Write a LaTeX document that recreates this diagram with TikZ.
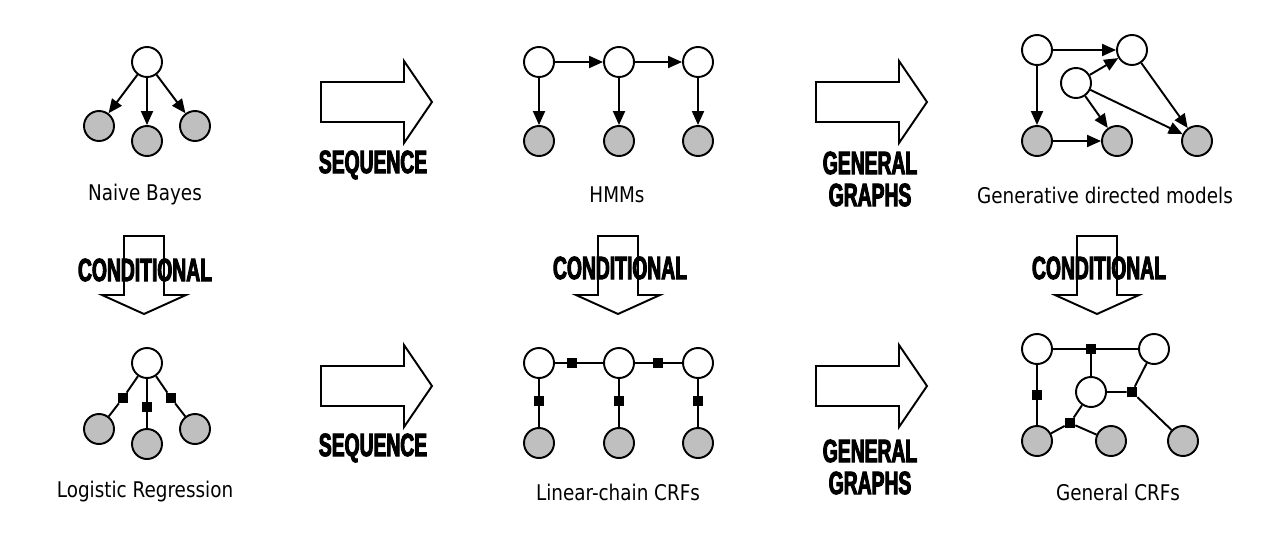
\documentclass[tikz,border=0pt]{standalone}
\usepackage{fontspec}
\setmainfont{DejaVu Sans}[FakeStretch=0.85]
\newfontfamily\bannerfont{Liberation Sans}[FakeStretch=0.6,FakeBold=3]
\usetikzlibrary{arrows.meta}

\tikzset{
  latent/.style={circle, draw, line width=1.1pt, fill=white, minimum size=6mm, inner sep=0pt},
  observed/.style={latent, fill=black!25},
  factor/.style={rectangle, fill=black, minimum size=2mm, inner sep=0pt},
  edge/.style={line width=1.1pt, -{Triangle[length=2.8mm,width=2.4mm]}},
  link/.style={line width=1.1pt},
  blockarrow/.style={draw, line width=1.1pt, fill=white, line join=miter},
  banner/.style={font=\bannerfont\bfseries\fontsize{18.3}{18.2}\selectfont, align=center, inner sep=0pt},
  caption/.style={font=\fontsize{12.3}{14}\selectfont, inner sep=0pt}
}

\begin{document}
\begin{tikzpicture}[x=0.2mm, y=-0.2mm]
    % --- Canvas (pixel grid of the reference) ---
    \useasboundingbox (0,0) rectangle (1266,552);

    % --- Block arrows ---
    \def\bodyL{83}   % length of the arrow body
    \def\tipL{111}   % distance to the tip
    \foreach \ax/\ay in {321/102, 816/102, 321/386, 816/386} {
        \draw[blockarrow] (\ax,\ay-20) -- ++(\bodyL,0) -- ++(0,-21) -- (\ax+\tipL,\ay)
            -- (\ax+\bodyL,\ay+41) -- ++(0,-21) -- (\ax,\ay+20) -- cycle;
    }
    \foreach \cx in {144, 618, 1097} {
        \draw[blockarrow] (\cx-20,236) -- (\cx+20,236) -- (\cx+20,295) -- (\cx+42,295)
            -- (\cx,314) -- (\cx-42,295) -- (\cx-20,295) -- cycle;
    }

    % --- Banner texts ---
    \node[banner] (seqTop) at (373,165) {SEQUENCE};
    \node[banner] (seqBot) at (373,448) {SEQUENCE};
    \node[banner] (genTop) at (870,179) {GENERAL\\GRAPHS};
    \node[banner] (genBot) at (870,467) {GENERAL\\GRAPHS};
    \node[banner] (condL) at (145,270) {CONDITIONAL};
    \node[banner] (condM) at (620,268) {CONDITIONAL};
    \node[banner] (condR) at (1099,268) {CONDITIONAL};

    % --- Naive Bayes ---
    \node[latent] (nbTop) at (147,62) {};
    \node[observed] (nbLeft) at (99,126) {};
    \node[observed] (nbMid) at (147,141) {};
    \node[observed] (nbRight) at (195,126) {};
    \foreach \n in {nbLeft, nbMid, nbRight} {
        \draw[edge] (nbTop) -- (\n);
    }
    \node[caption] (nbText) at (145,195) {Naive Bayes};

    % --- HMMs ---
    \foreach \x [count=\i] in {539, 619, 698} {
        \node[latent] (hmmS\i) at (\x,62) {};
        \node[observed] (hmmO\i) at (\x,141) {};
        \draw[edge] (hmmS\i) -- (hmmO\i);
    }
    \draw[edge] (hmmS1) -- (hmmS2);
    \draw[edge] (hmmS2) -- (hmmS3);
    \node[caption] (hmmText) at (617,195) {HMMs};

    % --- Generative directed models ---
    \node[latent] (gdA) at (1037,50) {};
    \node[latent] (gdB) at (1132,50) {};
    \node[latent] (gdC) at (1076,83) {};
    \node[observed] (gdD) at (1037,141) {};
    \node[observed] (gdE) at (1117,141) {};
    \node[observed] (gdF) at (1197,141) {};
    \foreach \s/\t in {gdA/gdB, gdA/gdD, gdC/gdB, gdC/gdE, gdC/gdF, gdB/gdF, gdD/gdE} {
        \draw[edge] (\s) -- (\t);
    }
    \node[caption] (gdText) at (1105,195) {Generative directed models};

    % --- Logistic Regression ---
    \node[latent] (lrTop) at (147,363) {};
    \node[observed] (lrLeft) at (99,429) {};
    \node[observed] (lrMid) at (147,444) {};
    \node[observed] (lrRight) at (195,429) {};
    \node[factor] (lrF1) at (123,398) {};
    \node[factor] (lrF2) at (147,407) {};
    \node[factor] (lrF3) at (171,398) {};
    \draw[link] (lrTop) -- (lrF1) -- (lrLeft);
    \draw[link] (lrTop) -- (lrF2) -- (lrMid);
    \draw[link] (lrTop) -- (lrF3) -- (lrRight);
    \node[caption] (lrText) at (145,492) {Logistic Regression};

    % --- Linear-chain CRFs ---
    \foreach \x [count=\i] in {539, 619, 698} {
        \node[latent] (lcS\i) at (\x,363) {};
        \node[observed] (lcO\i) at (\x,443) {};
        \node[factor] (lcV\i) at (\x,401) {};
        \draw[link] (lcS\i) -- (lcV\i) -- (lcO\i);
    }
    \node[factor] (lcH1) at (572,363) {};
    \node[factor] (lcH2) at (658,363) {};
    \draw[link] (lcS1) -- (lcH1) -- (lcS2) -- (lcH2) -- (lcS3);
    \node[caption] (lcText) at (618,492) {Linear-chain CRFs};

    % --- General CRFs ---
    \node[latent] (gcA) at (1037,349) {};
    \node[latent] (gcB) at (1154,349) {};
    \node[latent] (gcC) at (1091,392) {};
    \node[observed] (gcD) at (1037,441) {};
    \node[observed] (gcE) at (1111,441) {};
    \node[observed] (gcF) at (1183,441) {};
    \node[factor] (gcF1) at (1091,349) {};
    \node[factor] (gcF2) at (1037,395) {};
    \node[factor] (gcF3) at (1132,392) {};
    \node[factor] (gcF4) at (1070,423) {};
    \draw[link] (gcA) -- (gcF1) -- (gcB);
    \draw[link] (gcF1) -- (gcC);
    \draw[link] (gcA) -- (gcF2) -- (gcD);
    \draw[link] (gcC) -- (gcF3) -- (gcB);
    \draw[link] (gcF3) -- (gcF);
    \draw[link] (gcD) -- (gcF4) -- (gcE);
    \draw[link] (gcF4) -- (gcC);
    \node[caption] (gcText) at (1118,492) {General CRFs};
\end{tikzpicture}
\end{document}
